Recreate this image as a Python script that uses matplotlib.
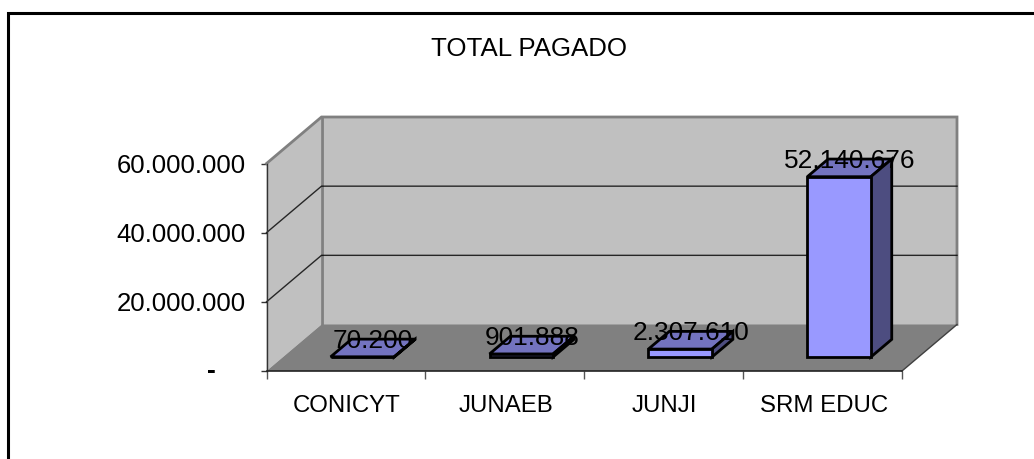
import numpy as np
from matplotlib import pyplot as plt
from matplotlib.patches import Polygon
from matplotlib.lines import Line2D

plt.rcParams['font.family'] = ['Liberation Sans', 'DejaVu Sans']

# datos
categorias = ['CONICYT', 'JUNAEB', 'JUNJI', 'SRM EDUC']
total_pagado = [70200, 901888, 2307610, 52140676]
etiquetas = ['70.200', '901.888', '2.307.610', '52.140.676']
y_ticks = [0, 20000000, 40000000, 60000000]
y_labels = ['', '20.000.000', '40.000.000', '60.000.000']

W, H = 1034, 459
fig = plt.figure(figsize=(W / 100, H / 100), dpi=100)

# plano frontal del grafico 3d, los ejes se colocan sobre el
ax = fig.add_axes([266.5 / W, 1 - 371 / H, 635.5 / W, 207.5 / H])
ax.set_xlim(0, 4)
ax.set_ylim(0, 60000000)
ax.patch.set_alpha(0)
for s in ax.spines.values():
    s.set_visible(False)

# desplazamiento de la profundidad, en unidades de datos
prof_x = 55 / (635.5 / 4)
prof_y = 46.5 / 207.5 * 60000000


def p(x, v, d=0.0):
    return (x + d * prof_x, v + d * prof_y)


def cara(puntos, color, ec='none', lw=0, z=1):
    ax.add_patch(Polygon(puntos, closed=True, fc=color, ec=ec, lw=lw,
                         joinstyle='miter', clip_on=False, zorder=z))


# paredes y piso
gris = '#808080'
cara([p(0, 0), p(0, 0, 1), p(0, 60000000, 1), p(0, 60000000)], '#c0c0c0', z=1)
cara([p(0, 0, 1), p(4, 0, 1), p(4, 60000000, 1), p(0, 60000000, 1)], '#c0c0c0', z=1)
cara([p(0, 0), p(4, 0), p(4, 0, 1), p(0, 0, 1)], gris, z=1.5)

# borde gris de las paredes
ax.plot(*zip(p(0, 60000000), p(0, 60000000, 1), p(4, 60000000, 1), p(4, 0, 1)),
        color=gris, lw=2, clip_on=False, zorder=2, solid_joinstyle='miter')
ax.plot(*zip(p(0, 0, 1), p(0, 60000000, 1)), color=gris, lw=2, clip_on=False, zorder=2)
ax.plot(*zip(p(4, 0), p(4, 0, 1)), color='#404040', lw=1, clip_on=False, zorder=2)

# lineas de division
for v in y_ticks[1:3]:
    ax.plot(*zip(p(0, v), p(0, v, 1), p(4, v, 1)), color='black', lw=1,
            alpha=0.8, clip_on=False, zorder=2)

# barras
ancho = 0.40
d0, d1 = 0.30, 0.68
for i, v in enumerate(total_pagado):
    x0 = i + 0.5 - ancho / 2
    x1 = x0 + ancho
    cara([p(x0, v, d0), p(x1, v, d0), p(x1, v, d1), p(x0, v, d1)], '#7373bf', 'black', 2, 3)
    cara([p(x1, 0, d0), p(x1, 0, d1), p(x1, v, d1), p(x1, v, d0)], '#4d4d80', 'black', 2, 3)
    cara([p(x0, 0, d0), p(x1, 0, d0), p(x1, v, d0), p(x0, v, d0)], '#9999ff', 'black', 2, 3)
    cx, cy = p(i + 0.5, v, (d0 + d1) / 2)
    ax.annotate(etiquetas[i], (cx, cy), xytext=(0, 7), textcoords='offset pixels',
                ha='center', va='center', fontsize=18.9, color='black', zorder=5,
                annotation_clip=False)

# ejes
ax.set_xticks(range(5))
ax.set_xticklabels([])
ax.set_yticks(y_ticks)
ax.set_yticklabels(y_labels, fontsize=18.5)
ax.tick_params(axis='y', length=4, width=1, pad=11, color='#333333')
ax.tick_params(axis='x', length=6, width=1, color='#555555')
ax.plot([0, 0], [0, 60000000], color='#333333', lw=1, clip_on=False, zorder=2.5)
ax.plot([0, 4], [0, 0], color='#222222', lw=1.2, clip_on=False, zorder=2.5)
# el cero va con un guion, mas adentro que los otros rotulos
ax.annotate('-', (0, 0), xytext=(-55, 0), textcoords='offset pixels', ha='center',
            va='center', fontsize=19, fontweight='bold', annotation_clip=False)
for i, c in enumerate(categorias):
    ax.annotate(c, (i + 0.5, 0), xytext=(1, -35), textcoords='offset pixels',
                ha='center', va='center', fontsize=17.3, annotation_clip=False)

# marco exterior y titulo
fig.add_artist(Line2D([7.5 / W, 7.5 / W, 1], [0, 1 - 13.3 / H, 1 - 13.3 / H],
                      color='black', lw=2.2, solid_joinstyle='miter'))
fig.text(529 / W, 1 - 49 / H, 'TOTAL PAGADO', ha='center', va='center', fontsize=18.6)

plt.savefig('out.png', dpi=100)
